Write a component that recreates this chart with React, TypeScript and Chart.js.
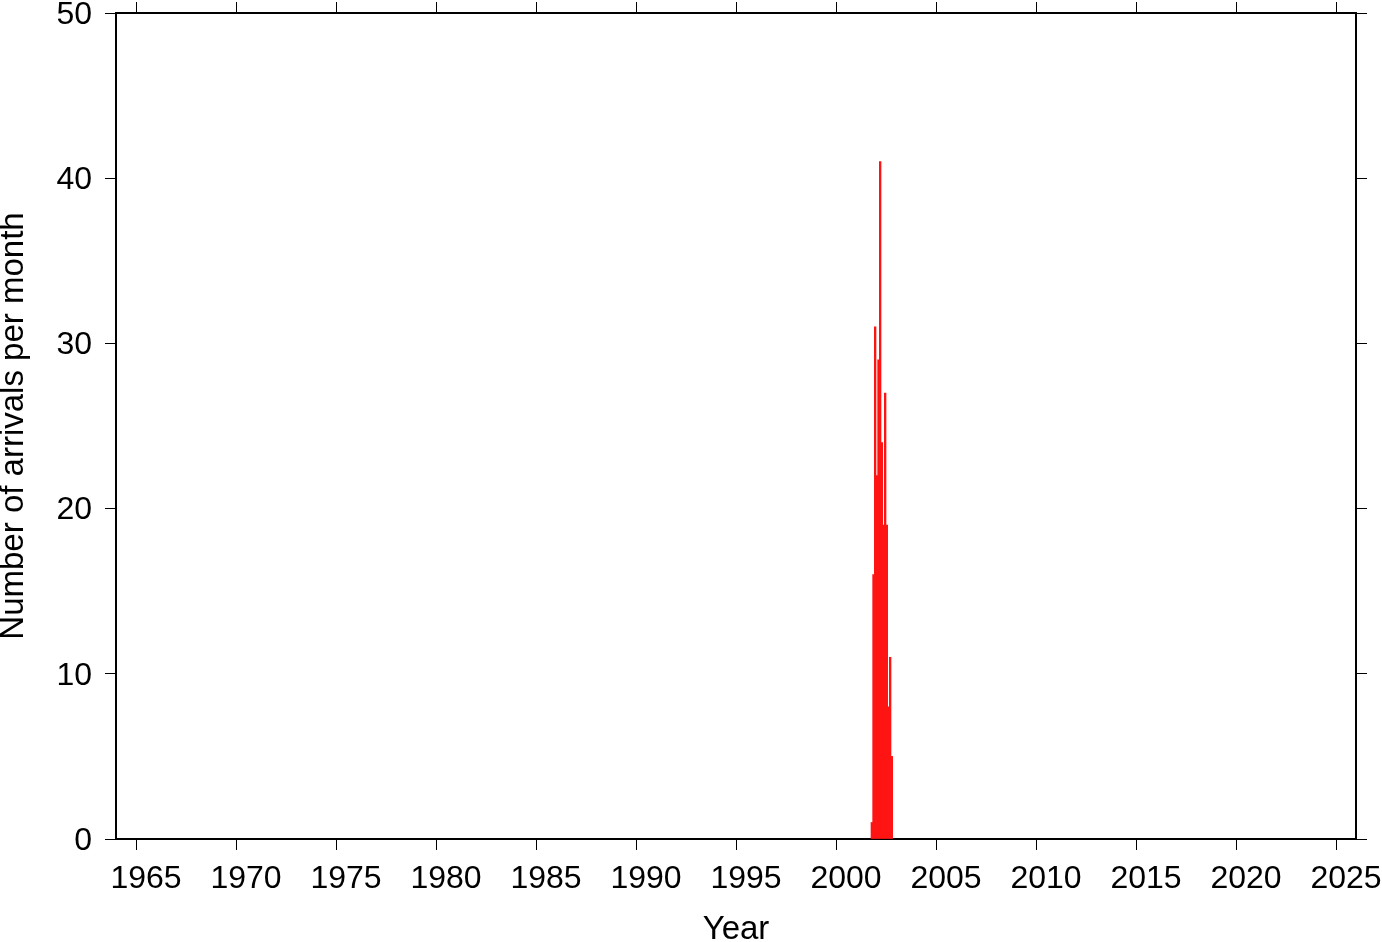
import React, { useEffect, useRef } from "react";
import { Chart, registerables } from "chart.js";

Chart.register(...registerables);

// Monthly bins (YYYY-MM) and arrival counts
const months = [
  "2001-10", "2001-11", "2001-12", "2002-01", "2002-02", "2002-03", "2002-04",
  "2002-05", "2002-06", "2002-07", "2002-08", "2002-09", "2002-10",
];
const arrivals = [1, 16, 31, 22, 29, 41, 24, 19, 27, 19, 8, 11, 5];

const yearTicks = [1965, 1970, 1975, 1980, 1985, 1990, 1995, 2000, 2005, 2010, 2015, 2020, 2025];
const countTicks = [0, 10, 20, 30, 40, 50];
const xMin = 1964;
const xMax = 2026;
const yMin = 0;
const yMax = 50;

const xTitle = "Year";
const yTitle = "Number of arrivals per month";

const FONT = "'Liberation Sans', Arial, Helvetica, sans-serif";
const FS = 32;
const TS = 33;

function monthCenter(m: string): number {
  const [y, mo] = m.split("-").map(Number);
  return y + (mo - 1) / 12 + 0.5 / 12;
}

export default function App() {
  const ref = useRef<HTMLCanvasElement | null>(null);

  useEffect(() => {
    if (!ref.current) return;
    const fixSize = (w: number | null, h: number | null) => (scale: any) => {
      if (w !== null) scale.width = w;
      if (h !== null) scale.height = h;
      scale.paddingLeft = 0;
      scale.paddingRight = 0;
      scale.paddingTop = 0;
      scale.paddingBottom = 0;
    };
    const setTicks = (vals: number[]) => (scale: any) => {
      scale.ticks = vals.map((v) => ({ value: v }));
    };
    const border = { display: true, color: "#000", width: 2 };
    const grid = {
      drawOnChartArea: false,
      drawTicks: true,
      tickLength: 11,
      tickColor: "#000",
      tickWidth: 1,
      offset: false,
    };
    const chart = new Chart(ref.current, {
      type: "bar",
      data: {
        datasets: [
          {
            data: months.map((m, i) => ({ x: monthCenter(m), y: arrivals[i] })),
            backgroundColor: "rgb(255,20,20)",
            borderWidth: 0,
            barPercentage: 1,
            categoryPercentage: 1,
            xAxisID: "x",
            yAxisID: "y",
          } as any,
        ],
      },
      options: {
        responsive: false,
        animation: false,
        layout: { padding: 0 },
        plugins: { legend: { display: false }, tooltip: { enabled: false } },
        scales: {
          x: {
            type: "linear",
            position: "bottom",
            min: xMin,
            max: xMax,
            offset: false,
            border,
            grid,
            afterBuildTicks: setTicks(yearTicks),
            afterFit: fixSize(null, 103),
            ticks: {
              color: "#000",
              font: { family: FONT, size: FS },
              padding: 10,
              labelOffset: 10,
              maxRotation: 0,
              autoSkip: false,
              callback: (v: any) => String(v),
            },
            title: {
              display: true,
              text: xTitle,
              color: "#000",
              font: { family: FONT, size: TS },
              padding: { top: 0, bottom: -8 },
            },
          },
          x2: {
            type: "linear",
            position: "top",
            min: xMin,
            max: xMax,
            offset: false,
            border,
            grid,
            afterBuildTicks: setTicks(yearTicks),
            afterFit: fixSize(null, 13),
            ticks: { display: false },
          },
          y: {
            type: "linear",
            position: "left",
            min: yMin,
            max: yMax,
            border,
            grid,
            afterBuildTicks: setTicks(countTicks),
            afterFit: fixSize(116, null),
            ticks: {
              color: "#000",
              font: { family: FONT, size: FS },
              padding: 13,
              labelOffset: 2,
              callback: (v: any) => String(v),
            },
            title: {
              display: true,
              text: yTitle,
              color: "#000",
              font: { family: FONT, size: TS },
              padding: { top: -6, bottom: 0 },
            },
          },
          y2: {
            type: "linear",
            position: "right",
            min: yMin,
            max: yMax,
            border,
            grid,
            afterBuildTicks: setTicks(countTicks),
            afterFit: fixSize(26, null),
            ticks: { display: false },
          },
        },
      } as any,
    });
    return () => chart.destroy();
  }, []);

  return (
    <div style={{ position: "absolute", left: 0, top: 0, width: 1382, height: 942, background: "#fff" }}>
      <canvas ref={ref} width={1382} height={942} />
    </div>
  );
}
